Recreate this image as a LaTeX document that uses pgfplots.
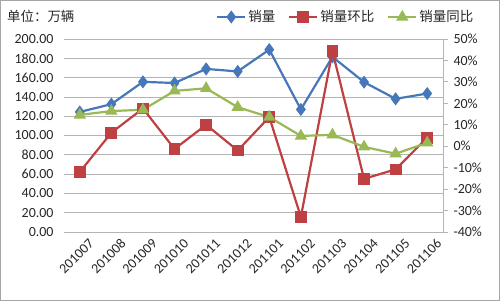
\documentclass[border=0pt]{standalone}
\usepackage{pgfplots}
\pgfplotsset{compat=1.18}
\usepackage{pgfplotstable}
\usepackage{fontspec}
\setmainfont{Carlito}
\newfontfamily\cjk{Noto Sans CJK SC}
\definecolor{cblue}{HTML}{4677BA}
\definecolor{cred}{HTML}{BE4042}
\definecolor{cgreen}{HTML}{98B954}
\definecolor{cgrid}{HTML}{B4B4B4}
\pgfplotstableread{
x sales mom yoy
0 124.4 -12.0 14.6
1 132.5 6.3 16.4
2 155.6 17.6 17.0
3 154.4 -1.3 25.8
4 169.0 10.0 27.0
5 166.4 -2.0 18.2
6 189.0 13.6 13.6
7 127.0 -33.0 4.8
8 181.5 44.3 5.3
9 155.3 -15.2 -0.3
10 138.0 -10.8 -3.5
11 143.5 4.0 1.6
}\datatable
\newcommand{\fs}{\fontsize{14}{16}\selectfont}
\newcommand{\cfs}{\fontsize{13.5}{16}\selectfont}
\begin{document}
\begin{tikzpicture}
\useasboundingbox (0bp,0bp) rectangle (500bp,301bp);
\draw[gray!70] (0.5bp,0.5bp) rectangle (499.5bp,300.5bp);
\node[anchor=west,font=\cjk\cfs,text=black!85,inner sep=0] at (7bp,285bp) {单位：万辆};
\begin{axis}[
  at={(64bp,69bp)}, anchor=south west, scale only axis,
  width=379bp, height=193bp,
  xmin=-0.5, xmax=11.5, ymin=0, ymax=200,
  ytick={0,20,...,200},
  ymajorgrids, grid style={cgrid, line width=0.8pt},
  axis line style={draw=none}, tick style={draw=none},
  xtick={0,...,11},
  xticklabels={201007,201008,201009,201010,201011,201012,201101,201102,201103,201104,201105,201106},
  xticklabel style={rotate=45, anchor=north east, font=\fs, text=black!85, inner sep=1bp, xshift=3bp, yshift=-9bp},
  yticklabel style={font=\fs, text=black!85, xshift=-7bp,
    /pgf/number format/fixed, /pgf/number format/fixed zerofill, /pgf/number format/precision=2},
  /pgf/number format/assume math mode=true,
  clip=false,
]
\addplot[cblue, line width=2.2pt, mark=diamond*, mark size=4.8pt, mark options={fill=cblue, draw=cblue}] table[x=x, y=sales] {\datatable};
\end{axis}
\begin{axis}[
  at={(64bp,69bp)}, anchor=south west, scale only axis,
  width=379bp, height=193bp,
  xmin=-0.5, xmax=11.5, ymin=-40, ymax=50,
  ytick={-40,-30,...,50},
  axis x line=none, axis y line*=right,
  y axis line style={cgrid, line width=0.8pt, -},
  ytick style={cgrid, line width=0.8pt},
  tick align=outside, major tick length=5bp,
  yticklabel={\pgfmathprintnumber{\tick}\%},
  yticklabel style={font=\fs, text=black!85, xshift=2bp},
  /pgf/number format/assume math mode=true,
  clip=false,
  legend style={at={(0.401,1.114)}, anchor=west, draw=none, fill=none, font=\cjk\cfs, text=black!85,
    legend columns=3, inner sep=0pt, /tikz/every even column/.append style={column sep=11bp}},
  legend image code/.code={\draw[#1, mark repeat=2, mark phase=2] plot coordinates {(0bp,0bp)(14bp,0bp)(28bp,0bp)};},
]
\addlegendimage{cblue, line width=2.2pt, mark=diamond*, mark size=4.8pt, mark options={fill=cblue, draw=cblue}}
\addlegendentry{销量}
\addplot[cred, line width=2.2pt, mark=square*, mark size=4.8pt, mark options={fill=cred, draw=cred}] table[x=x, y=mom] {\datatable};
\addlegendentry{销量环比}
\addplot[cgreen, line width=2.2pt, mark=triangle*, mark size=5pt, mark options={fill=cgreen, draw=cgreen}] table[x=x, y=yoy] {\datatable};
\addlegendentry{销量同比}
\end{axis}
\end{tikzpicture}
\end{document}
